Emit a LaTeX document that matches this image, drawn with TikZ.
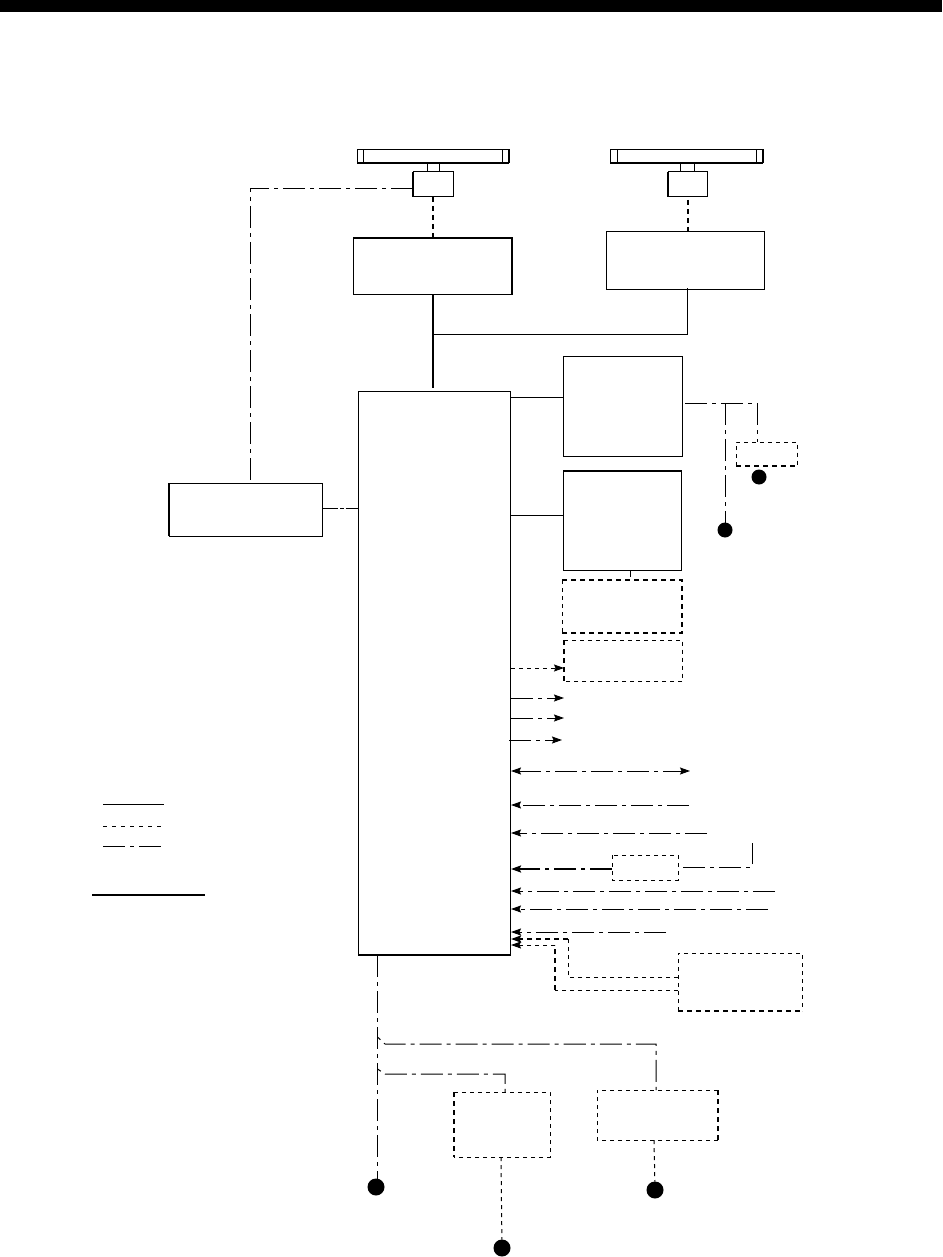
\documentclass[tikz,border=0pt]{standalone}
\usetikzlibrary{arrows.meta}
\tikzset{
  box/.style={draw=black,line width=1pt,fill=none,inner sep=0pt,outer sep=0pt},
  dbox/.style={draw=none,fill=none,inner sep=0pt,outer sep=0pt},
  dotnode/.style={circle,fill=black,inner sep=0pt,outer sep=0pt,minimum size=15pt},
  solidline/.style={line width=1pt},
  heavy/.style={line width=2.2pt},
  dashline/.style={line width=1pt,dash pattern=on 4pt off 4pt},
  heavydash/.style={line width=2.2pt,dash pattern=on 5pt off 4pt},
  chain/.style={line width=1pt,dash pattern=on 22pt off 5pt on 4pt off 5pt},
  branch/.style={chain,dash phase=27pt},
  tip/.style={-{Stealth[length=10pt,width=7pt,inset=1.5pt]}},
  bothtip/.style={{Stealth[length=10pt,width=7pt,inset=1.5pt]}-{Stealth[length=10pt,width=7pt,inset=1.5pt]}}
}
\newcommand{\bx}[6]{\node[#1,minimum width=#5pt-#3pt,minimum height=#6pt-#4pt,anchor=north west] (#2) at (#3,#4) {};}
\begin{document}
\begin{tikzpicture}[x=1pt,y=-1pt]
\useasboundingbox (0,0) rectangle (942,1257);
\fill[black] (0,0) rectangle (942,12);

% antennas
\bx{box}{barA}{357}{150}{509}{163}
\bx{box}{barB}{610}{150}{763}{163}
\draw[box] (363,150) -- (363,163) (502,150) -- (502,163);
\draw[box] (617,150) -- (617,163) (756,150) -- (756,163);
\draw[heavy] (barA.south west) -- (barA.south east);
\draw[heavy] (barB.south west) -- (barB.south east);
\draw[heavy] (barA.south east) -- (barA.north east);
\draw[heavy] (barB.south east) -- (barB.north east);
\bx{box}{pedA}{427}{163}{439}{172}
\bx{box}{pedB}{680}{163}{694}{172}
\bx{box}{unitA}{413}{172}{453}{197}
\bx{box}{unitB}{668}{172}{707}{197}
\draw[heavy] (unitA.north west) -- (unitA.south west);
\draw[heavy] (unitB.north west) -- (unitB.south west);

% transceivers
\bx{box}{txA}{353}{238}{512}{294}
\bx{box}{txB}{606}{232}{764.5}{289}
\draw[heavy] (txA.north west) -- (txA.north east) -- (txA.south east);
\draw[heavydash] (433,197) -- (433,238);
\draw[heavydash] (688,200) -- (688,232);

% main
\bx{box}{main}{358}{391}{510}{955}
\draw[heavy] (main.south west) -- (main.south east);
\draw[heavy] (433,294) -- (433,388);
\draw[solidline] (433,334) -- (687.5,334) -- (687.5,288);

% right-hand boxes
\bx{box}{boxA}{563}{356}{682}{456}
\bx{box}{boxB}{563}{471}{681.5}{570}
\draw[heavy] (boxB.north west) -- (boxB.north east);
\bx{dbox}{boxC}{562}{580}{682}{633}
\draw[dashline] (boxC.north west) -- (boxC.south west);
\draw[heavydash] (boxC.north west) -- (boxC.north east) -- (boxC.south east) -- (boxC.south west);
\bx{dbox}{boxD}{564}{640}{682.5}{681}
\draw[dashline] (boxD.north west) -- (boxD.north east) -- (boxD.south east) -- (boxD.south west);
\draw[heavydash] (boxD.north west) -- (boxD.south west);
\draw[solidline] (main.east |- 0,397) -- (boxA.west |- 0,397);
\draw[solidline] (main.east |- 0,515) -- (boxB.west |- 0,515);
\draw[solidline] (630,570) -- (630,577);

% upper right chain
\bx{dbox}{boxK}{736}{442}{797.5}{466}
\draw[dashline] (boxK.south west) -- (boxK.north west) -- (boxK.north east) -- (boxK.south east);
\draw[heavydash] (boxK.south west) -- (boxK.south east);
\node[dotnode] (dotK) at (759,477) {};
\node[dotnode] (dotA) at (725,530) {};
\coordinate (jA) at (725,403);
\draw[chain] (685,403) -- (757,403) -- (757,442);
\draw[chain] (jA) -- (dotA);

% left box
\bx{box}{boxG}{169}{483}{322}{536}
\draw[heavy] (boxG.north west) -- (boxG.south west);
\draw[chain] (unitA.west |- 0,189) -- (250,189) -- (250,483);
\draw[line width=1pt,dash pattern=on 16pt off 2pt on 4pt off 1.5pt on 12pt off 50pt] (boxG.east |- 0,508) -- (main.west |- 0,508);

% arrows
\draw[dashline,tip] (511,668) -- (boxD.west |- 0,668);
\draw[chain,tip] (511,698) -- (564,698);
\draw[chain,tip] (511,718) -- (564,718);
\draw[chain,tip] (509,740) -- (562,740);
\draw[chain,bothtip] (511,771) -- (690,771);
\draw[chain,tip] (689,805) -- (511,805);
\draw[chain,tip] (707,833) -- (511,833);
\bx{dbox}{boxH}{612}{855}{678}{880}
\draw[dashline] (boxH.north west) rectangle (boxH.south east);
\draw[line width=1.8pt,dash pattern=on 22pt off 5pt on 4pt off 5pt,tip] (boxH.west |- 0,869) -- (511,869);
\draw[chain] (683,867) -- (752,867) -- (752,843);
\draw[chain,tip] (775,891) -- (511,891);
\draw[chain,tip] (768,909) -- (511,909);
\draw[chain,tip] (666,932) -- (511,932);
\bx{dbox}{boxI}{678}{953}{802}{1011}
\draw[dashline] (boxI.south west) -- (boxI.north west) -- (boxI.north east) -- (boxI.south east);
\draw[heavydash] (boxI.south west) -- (boxI.south east);
\draw[dashline] (boxI.west |- 0,977) -- (568,977) -- (568,939);
\draw[heavydash,tip] (568,939) -- (511,939);
\draw[dashline,tip] (555,945) -- (511,945);
\draw[dashline] (boxI.west |- 0,990) -- (555,990);
\draw[heavydash] (555,990) -- (555,945);

% bottom
\bx{dbox}{boxE}{454}{1092}{550}{1157}
\draw[dashline] (boxE.north west) -- (boxE.north east) -- (boxE.south east) -- (boxE.south west);
\draw[heavydash] (boxE.north west) -- (boxE.south west);
\bx{dbox}{boxF}{597}{1090}{718}{1140}
\draw[dashline] (boxF.south east) -- (boxF.south west) -- (boxF.north west) -- (boxF.north east);
\draw[heavydash] (boxF.north east) -- (boxF.south east);
\node[dotnode,minimum size=17pt] (dotM) at (376,1187) {};
\node[dotnode,minimum size=17pt] (dotE) at (502,1248) {};
\node[dotnode,minimum size=17pt] (dotF) at (655,1190) {};
\coordinate (jB) at (377.5,1037);
\coordinate (jC) at (377.5,1069);
\draw[chain] (377.5,955) -- (377.5,1180);
\draw[branch] (jB) -- (385,1044) -- (656,1044) -- (656,1090);
\draw[branch] (jC) -- (385,1074) -- (505,1074) -- (505,1092);
\draw[dashline] (501,1157) -- (dotE);
\draw[dashline] (654,1140) -- (dotF);

% legend
\draw[solidline] (103,804) -- (164,804);
\draw[dash pattern=on 4pt off 5pt,line width=1pt] (103,826) -- (161,826);
\draw[chain] (103,846) -- (161,846);
\draw[heavy] (92,895) -- (205,895);
\end{tikzpicture}
\end{document}
